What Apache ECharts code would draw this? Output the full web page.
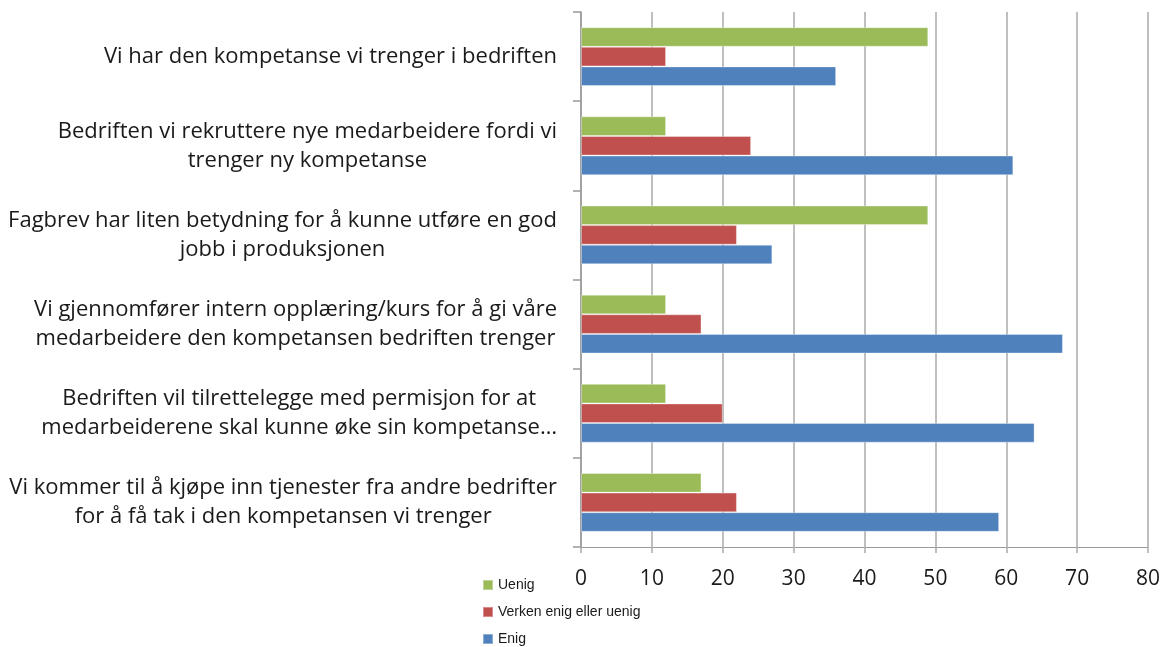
<!DOCTYPE html>
<html>
<head>
<meta charset="utf-8">
<script src="https://cdn.jsdelivr.net/npm/echarts@6/dist/echarts.min.js"></script>
<style>
  html, body { margin: 0; padding: 0; background: #fff; }
  #chart { width: 1164px; height: 647px; }
</style>
</head>
<body>
<div id="chart"></div>
<script>
// kategorier, ovenfra og ned
const categories = [
  "Vi har den kompetanse vi trenger i bedriften",
  "Bedriften vi rekruttere nye medarbeidere fordi vi\ntrenger ny kompetanse",
  "Fagbrev har liten betydning for å kunne utføre en god\njobb i produksjonen",
  "Vi gjennomfører intern opplæring/kurs for å gi våre\nmedarbeidere den kompetansen bedriften trenger",
  "Bedriften vil tilrettelegge med permisjon for at\nmedarbeiderene skal kunne øke sin kompetanse…",
  "Vi kommer til å kjøpe inn tjenester fra andre bedrifter\nfor å få tak i den kompetansen vi trenger",
];
const uenig = [49, 12, 49, 12, 12, 17];
const verken = [12, 24, 22, 17, 20, 22];
const enig = [36, 61, 27, 68, 64, 59];
const xTicks = { min: 0, max: 80, interval: 10 };

const FONT = "'Open Sans', 'Noto Sans', sans-serif";
const LEGEND_FONT = "'Liberation Sans', sans-serif";
const TEXT = "#1a1a1a";
const GRID_LINE = "#aaaaaa";

const chart = echarts.init(document.getElementById("chart"));

function bar(name, data, color) {
  return {
    name,
    type: "bar",
    data,
    barGap: "0%",
    barCategoryGap: "34%",
    itemStyle: { color, borderColor: "rgba(255,255,255,0.35)", borderWidth: 1 },
  };
}

chart.setOption({
  animation: false,
  grid: { left: 581, right: 16, top: 12, bottom: 100 },
  legend: {
    orient: "vertical",
    left: 482,
    top: 578,
    height: 100,
    padding: 0,
    itemWidth: 10,
    itemHeight: 10,
    itemGap: 13,
    icon: "rect",
    textStyle: { fontFamily: LEGEND_FONT, fontSize: 14, color: TEXT },
    data: ["Uenig", "Verken enig eller uenig", "Enig"],
  },
  xAxis: {
    type: "value",
    min: xTicks.min,
    max: xTicks.max,
    interval: xTicks.interval,
    axisLine: { show: true, lineStyle: { color: "#999", width: 1 } },
    axisTick: { show: true, length: 6, lineStyle: { color: GRID_LINE, width: 1.5 } },
    splitLine: { show: true, lineStyle: { color: GRID_LINE, width: 1.5 } },
    axisLabel: { fontFamily: FONT, fontSize: 21, color: TEXT, margin: 22 },
  },
  yAxis: {
    type: "category",
    inverse: true,
    data: categories,
    axisLine: { show: true, lineStyle: { color: "#999", width: 1.5 } },
    axisTick: { show: true, length: 8, lineStyle: { color: "#999", width: 1.5 } },
    axisLabel: {
      margin: 24,
      align: "right",
      formatter: (v) => v.split("\n").map((l) => "{c|" + l + "}").join("\n"),
      rich: {
        c: { align: "center", fontFamily: FONT, fontSize: 22, color: TEXT, lineHeight: 29 },
      },
    },
  },
  series: [
    bar("Uenig", uenig, "#9bbb59"),
    bar("Verken enig eller uenig", verken, "#c0504d"),
    bar("Enig", enig, "#4f81bd"),
  ],
});
</script>
</body>
</html>
